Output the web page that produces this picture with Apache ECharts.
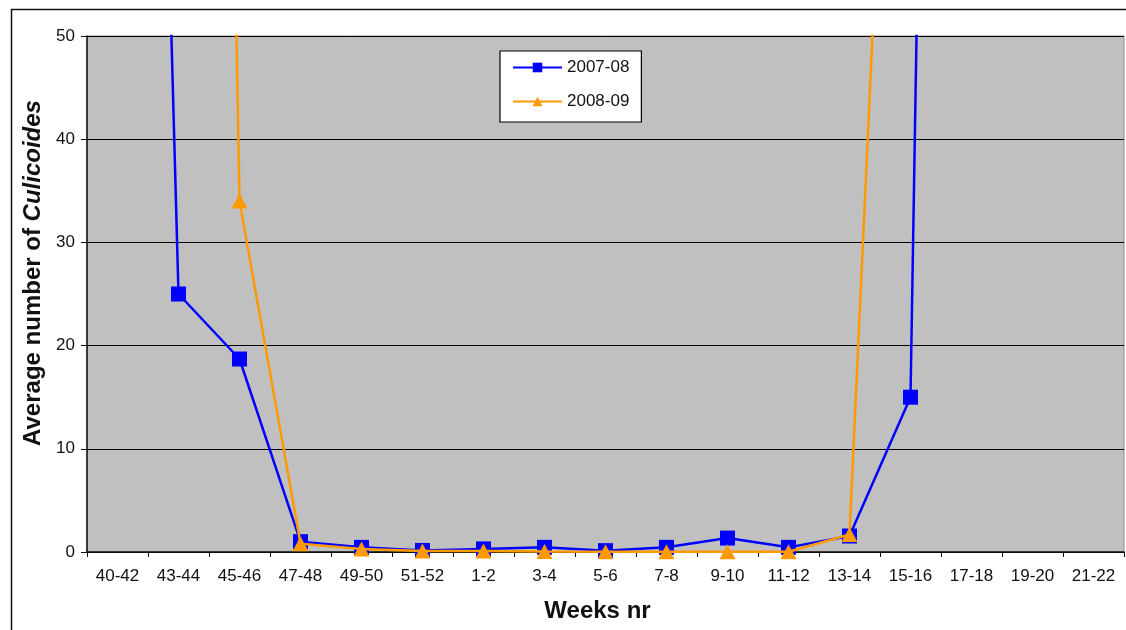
<!DOCTYPE html>
<html>
<head>
<meta charset="utf-8">
<script src="https://cdn.jsdelivr.net/npm/echarts@6/dist/echarts.min.js"></script>
<style>html,body{margin:0;padding:0;background:#fff;}#chart{width:1126px;height:630px;}</style>
</head>
<body>
<div id="chart"></div>
<script>
const weeks = ['40-42','43-44','45-46','47-48','49-50','51-52','1-2','3-4','5-6','7-8','9-10','11-12','13-14','15-16','17-18','19-20','21-22'];
const season0708 = [240, 25, 18.7, 1.0, 0.45, 0.15, 0.3, 0.45, 0.13, 0.45, 1.35, 0.45, 1.55, 15, 370, null, null];
const season0809 = [null, 360, 34, 0.8, 0.3, 0.1, 0.1, 0.05, 0.03, 0.03, 0.03, 0.03, 1.7, 130, null, null, null];
const yTicks = [0, 10, 20, 30, 40, 50];

const chart = echarts.init(document.getElementById('chart'));
const font = 'Liberation Sans, Arial, sans-serif';
chart.setOption({
  animation: false,
  textStyle: { fontFamily: font },
  graphic: [{
    type: 'rect', left: 9, top: 7, z: -10,
    shape: { width: 1140, height: 650 },
    style: { fill: 'none', stroke: '#111', lineWidth: 1.5 }
  }],
  grid: {
    left: 87, right: 2, top: 36, bottom: 78,
    show: true, backgroundColor: '#c0c0c0', borderColor: '#8a8a8a', borderWidth: 1
  },
  legend: {
    orient: 'vertical', left: 500, top: 51,
    backgroundColor: '#fff', borderColor: '#000', borderWidth: 1.2,
    padding: [8, 12, 12, 12], itemGap: 17, itemWidth: 49, itemHeight: 12,
    textStyle: { fontSize: 17, color: '#111', fontFamily: font },
    data: ['2007-08', '2008-09']
  },
  xAxis: {
    type: 'category', data: weeks, boundaryGap: true,
    name: 'Weeks nr', nameLocation: 'middle', nameGap: 47,
    nameTextStyle: { fontSize: 24, fontWeight: 'bold', color: '#111', padding: [0, 16, 0, 0] },
    axisLine: { lineStyle: { color: '#111', width: 1.5 } },
    axisTick: { show: true, length: 5, lineStyle: { color: '#111' } },
    axisLabel: { fontSize: 17, color: '#111', margin: 16, interval: 0 },
    splitLine: { show: false }
  },
  yAxis: {
    type: 'value', min: yTicks[0], max: yTicks[yTicks.length - 1], interval: 10,
    name: '{a|Average number of }{b|Culicoides}', nameLocation: 'middle', nameGap: 30, nameRotate: 90,
    nameTextStyle: {
      padding: [8, 0, 0, 42],
      rich: {
        a: { fontSize: 24, fontWeight: 'bold', color: '#111', fontFamily: font },
        b: { fontSize: 24, fontWeight: 'bold', fontStyle: 'italic', color: '#111', fontFamily: font }
      }
    },
    axisLine: { show: true, lineStyle: { color: '#111', width: 1.5 } },
    axisTick: { show: true, length: 6, lineStyle: { color: '#111' } },
    axisLabel: { fontSize: 17, color: '#111', margin: 12 },
    splitLine: { show: true, lineStyle: { color: '#000', width: 1.2 } }
  },
  series: [
    {
      name: '2007-08', type: 'line', data: season0708, clip: true,
      symbol: 'rect', symbolSize: 15, connectNulls: false,
      itemStyle: { color: '#0000ff' }, lineStyle: { color: '#0000ff', width: 2.5 }, z: 3
    },
    {
      name: '2008-09', type: 'line', data: season0809, clip: true,
      symbol: 'triangle', symbolSize: [16, 15], connectNulls: false,
      itemStyle: { color: '#ff9900' }, lineStyle: { color: '#ff9900', width: 2.5 }, z: 4
    }
  ]
});
</script>
</body>
</html>
